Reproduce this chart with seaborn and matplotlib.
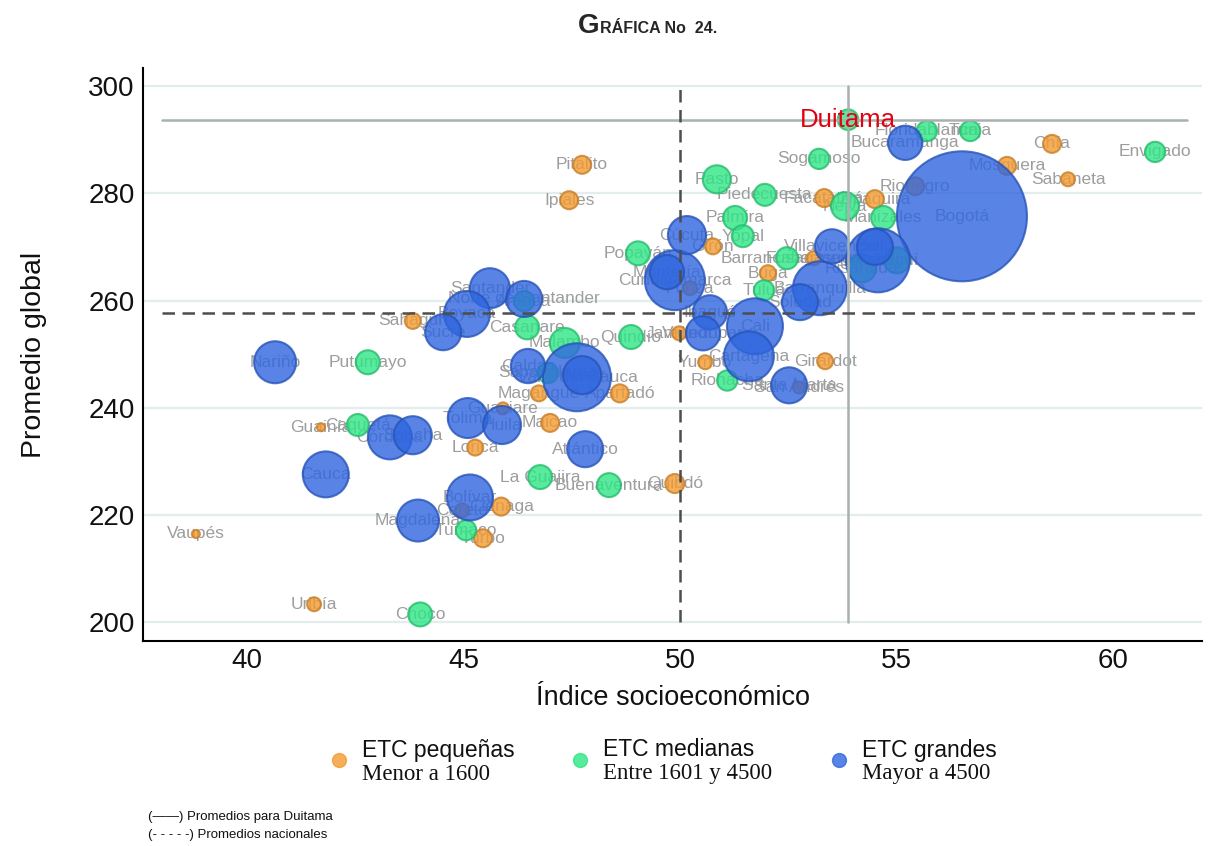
import matplotlib
matplotlib.use("Agg")
import matplotlib.pyplot as plt
import numpy as np
import pandas as pd
import seaborn as sns

# ETC pequeñas (menor a 1600)
peq_etc = ["Pitalito", "Ipiales", "Chía", "Mosquera", "Sabaneta", "Rionegro", "Facatativá", "Zipaquirá",
           "Girón", "Fusagasugá", "Buga", "Funza", "Jamundí", "Yumbo", "Girardot", "San Andrés",
           "Apartadó", "Magangué", "Guaviare", "Maicao", "Lorica", "Sahagún", "Guainía", "Vaupés",
           "Uribía", "Ciénaga", "Cereté", "Turbo", "Quibdó"]
peq_indice = [47.74, 47.44, 58.59, 57.55, 58.96, 55.43, 53.33, 54.50,
              50.76, 53.09, 52.03, 50.23, 49.98, 50.58, 53.35, 52.75,
              48.61, 46.74, 45.91, 47.00, 45.27, 43.83, 41.71, 38.82,
              41.55, 45.87, 44.97, 45.45, 49.88]
peq_promedio = [285.3, 278.7, 289.2, 285.1, 282.6, 281.3, 279.1, 278.9,
                270.1, 267.9, 265.1, 262.3, 253.9, 248.5, 248.7, 243.8,
                242.7, 242.7, 239.9, 237.2, 232.6, 256.2, 236.4, 216.5,
                203.4, 221.6, 220.9, 215.7, 225.9]
peq_matricula = [1300, 1300, 1300, 1300, 780, 1300, 1300, 1300,
                 1020, 780, 1020, 780, 780, 780, 1020, 580,
                 1300, 1020, 580, 1300, 1020, 1020, 260, 260,
                 780, 1300, 780, 1300, 1450]

# ETC medianas (entre 1601 y 4500)
med_etc = ["Duitama", "Floridablanca", "Tunja", "Envigado", "Sogamoso", "Pasto", "Piedecuesta", "Neiva",
           "Palmira", "Yopal", "Manizales", "Itagüí", "Risaralda", "Barrancabermeja", "Tuluá", "Popayán",
           "Quindío", "Riohacha", "Casanare", "Malambo", "Sabanalarga", "Arauca", "Putumayo", "Caquetá",
           "La Guajira", "Buenaventura", "Tumaco", "Choco"]
med_indice = [53.88, 55.70, 56.70, 60.97, 53.21, 50.85, 51.96, 53.81,
              51.27, 51.45, 54.69, 55.01, 54.20, 52.47, 51.94, 49.03,
              48.87, 51.09, 46.47, 47.34, 46.95, 46.40, 42.79, 42.56,
              46.77, 48.36, 45.06, 44.00]
med_promedio = [293.7, 291.6, 291.6, 287.7, 286.4, 282.6, 279.7, 277.6,
                275.4, 272.0, 275.4, 267.5, 266.0, 267.9, 261.9, 268.8,
                253.2, 245.1, 255.0, 252.1, 246.5, 259.9, 248.5, 236.8,
                227.1, 225.6, 217.2, 201.5]
med_matricula = [1700, 1650, 1650, 1650, 1650, 3150, 1940, 3150,
                 2300, 1940, 2300, 2700, 3150, 1940, 1650, 2300,
                 2300, 1650, 2300, 3600, 1650, 1650, 2300, 1940,
                 2300, 2300, 1650, 2300]

# ETC grandes (mayor a 4500)
gra_etc = ["Bogotá", "Medellín", "Bello", "Cali", "Barranquilla", "Cartagena", "Valle del Cauca", "Cesar",
           "Cundinamarca", "Montería", "Cúcuta", "Villavicencio", "Ibagué", "Valledupar", "Soledad",
           "Santa Marta", "Bucaramanga", "Santander", "Norte de Santander", "Boyacá", "Sucre", "Caldas",
           "Tolima", "Huila", "Atlántico", "Bolívar", "Magdalena", "Córdoba", "Soacha", "Cauca", "Nariño"]
gra_indice = [56.51, 54.57, 54.50, 51.73, 53.23, 51.59, 47.62, 47.74,
              49.88, 49.70, 50.16, 53.51, 50.69, 50.53, 52.77,
              52.52, 55.20, 45.61, 46.40, 45.08, 44.53, 46.49,
              45.10, 45.89, 47.81, 45.15, 43.95, 43.30, 43.83, 41.82, 40.65]
gra_promedio = [275.7, 267.5, 270.0, 255.2, 262.3, 249.6, 245.7, 246.1,
                263.8, 265.3, 272.2, 270.1, 257.8, 253.9, 259.7,
                244.2, 289.4, 262.3, 260.3, 257.5, 254.1, 247.8,
                238.1, 236.8, 232.3, 223.3, 219.0, 234.5, 234.9, 227.6, 248.5]
gra_matricula = [67600, 16400, 5200, 12550, 11650, 10000, 18500, 5800,
                 14400, 4700, 5800, 4700, 4700, 4700, 5200,
                 5200, 4700, 6400, 5200, 8450, 5200, 4700,
                 6400, 5800, 5200, 8450, 7050, 7750, 5800, 8450, 7050]

# Promedios de referencia
duitama_indice = 53.88
duitama_promedio = 293.7
nacional_indice = 50.0
nacional_promedio = 257.6

tamanos = ["ETC pequeñas", "ETC medianas", "ETC grandes"]
rangos = ["Menor a 1600", "Entre 1601 y 4500", "Mayor a 4500"]
colores = ["#f39a30", "#2ee585", "#2f66e0"]

df = pd.DataFrame({
    "etc": peq_etc + med_etc + gra_etc,
    "indice": peq_indice + med_indice + gra_indice,
    "promedio": peq_promedio + med_promedio + gra_promedio,
    "matricula": peq_matricula + med_matricula + gra_matricula,
})
df["tamano"] = np.select([df["matricula"] <= 1600, df["matricula"] <= 4500], tamanos[:2], tamanos[2])

sns.set_theme(style="white")
plt.rcParams["font.family"] = ["Liberation Sans", "DejaVu Sans"]

fig = plt.figure(figsize=(12.12, 8.46), dpi=100)
ax = fig.add_axes([0.118, 0.242, 0.874, 0.678])

# nombres debajo de las burbujas
for _, r in df.iterrows():
    if r["etc"] == "Duitama":
        continue
    ax.text(r["indice"], r["promedio"], r["etc"], ha="center", va="center",
            fontsize=12.5, color="#9d9d9d", zorder=1)

sns.scatterplot(data=df, x="indice", y="promedio", hue="tamano", hue_order=tamanos,
                palette=colores, size="matricula", sizes=(0, 8761), size_norm=(0, 67600),
                alpha=0.8, edgecolor="none", linewidth=1.4, legend=False, zorder=3, ax=ax)
coll = ax.collections[-1]
ec = np.array(coll.get_facecolors())
ec[:, :3] *= 0.82
ec[:, 3] = 0.9
coll.set_edgecolors(ec)
coll.set_linewidths(1.5)

# lineas de promedios
ax.plot([38.04, 61.7], [duitama_promedio] * 2, color="#a8b0b0", lw=1.8, zorder=4)
ax.plot([duitama_indice] * 2, [200, 300], color="#a8b0b0", lw=1.8, zorder=4)
ax.plot([38.04, 62.0], [nacional_promedio] * 2, color="#4d4d4d", lw=1.8, ls=(0, (5, 3)), zorder=4)
ax.plot([nacional_indice] * 2, [200, 300], color="#4d4d4d", lw=1.8, ls=(0, (5, 3)), zorder=4)
ax.text(duitama_indice, duitama_promedio, "Duitama", ha="center", va="center",
        fontsize=18.5, color="#e3000f", zorder=5)

ax.set_xlim(37.6, 62.06)
ax.set_ylim(196.5, 303.4)
ax.set_xticks([40, 45, 50, 55, 60])
ax.set_yticks(list(range(200, 301, 20)))
ax.tick_params(axis="both", labelsize=20, length=0, colors="#111111")
ax.tick_params(axis="y", pad=6)
ax.tick_params(axis="x", pad=5)
ax.yaxis.grid(True, color="#e3eded", lw=1.6)
ax.xaxis.grid(False)
ax.set_axisbelow(True)
sns.despine(ax=ax)
for s in ["left", "bottom"]:
    ax.spines[s].set_color("black")
    ax.spines[s].set_linewidth(1.5)
ax.set_xlabel("Índice socioeconómico", fontsize=19.5, labelpad=8, color="#111111")
ax.set_ylabel("Promedio global", fontsize=20.5, labelpad=30, color="#111111")

# titulo, leyenda y notas en coordenadas de pixel
lax = fig.add_axes([0, 0, 1, 1], zorder=10)
lax.set_axis_off()
lax.set_xlim(0, 1212)
lax.set_ylim(846, 0)

lax.text(578, 33, "G", fontsize=20, weight="bold", va="baseline")
lax.text(600, 33, "RÁFICA No  24.", fontsize=11.5, weight="bold", va="baseline")

for i, (t, rg, c) in enumerate(zip(tamanos, rangos, colores)):
    x0 = [339, 580, 839][i]
    lax.scatter([x0], [760], s=100, color=c, alpha=0.8, edgecolor=c, linewidth=1)
    lax.text(x0 + 23, 750, t, fontsize=16.5, va="center", color="#111111")
    lax.text(x0 + 23, 774, rg, fontsize=16.5, va="center", color="#111111",
             family=["Liberation Serif", "DejaVu Serif"])

lax.text(148, 817, "(——) Promedios para Duitama", fontsize=9.5, va="center", color="#111111")
lax.text(148, 835, "(- - - - -) Promedios nacionales", fontsize=9.5, va="center", color="#111111")

fig.savefig("out.png", dpi=100)
